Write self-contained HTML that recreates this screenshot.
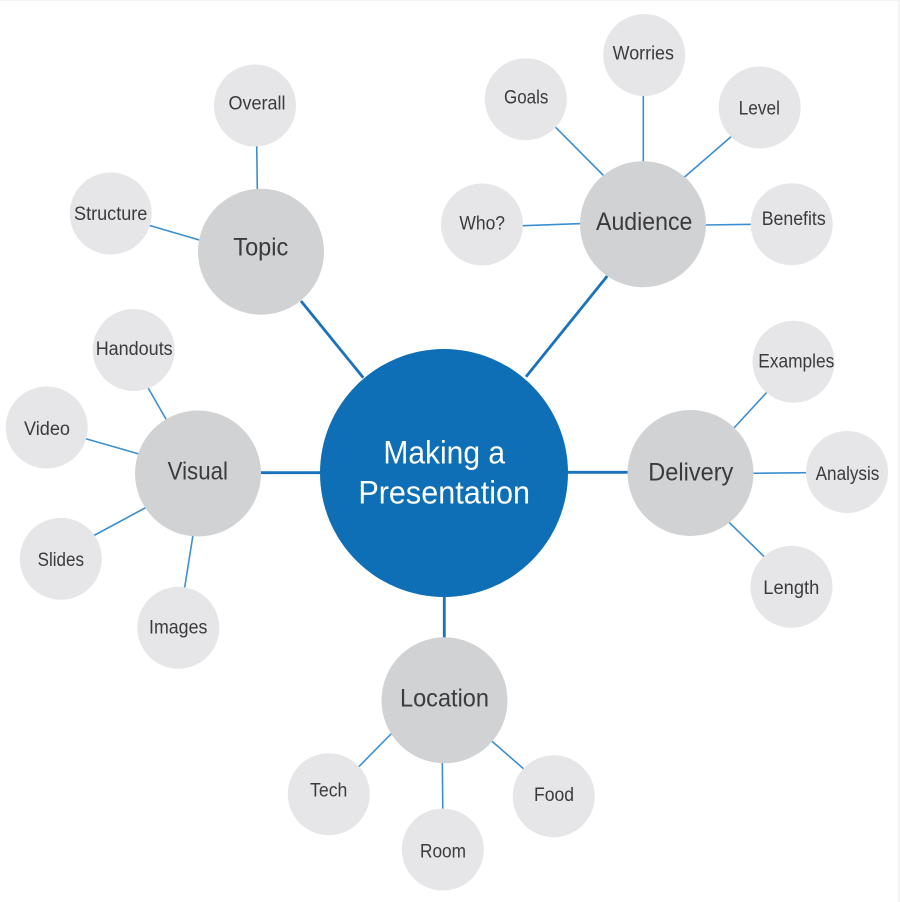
<!DOCTYPE html>
<html>
<head>
<meta charset="utf-8">
<style>
  html,body{margin:0;padding:0;background:#fff;}
  svg{display:block;}
  text{font-family:"Liberation Sans",Arial,sans-serif;fill:#3b3b3d;text-anchor:middle;}
  .s{font-size:19px;}
  .m{font-size:25px;}
  .c{font-size:32px;fill:#ffffff;}
  .ml{stroke:#1a72bd;stroke-width:2.8;}
  .tl{stroke:#3b8fd0;stroke-width:1.6;}
  .big{fill:#d1d2d4;}
  .sm{fill:#e6e6e8;}
</style>
</head>
<body>
<svg width="900" height="902" viewBox="0 0 900 902" xmlns="http://www.w3.org/2000/svg">
  <rect x="0" y="0" width="900" height="902" fill="#ffffff"/>
  <rect x="0" y="0" width="900" height="1" fill="#f2f2f2"/>
  <rect x="898" y="0" width="2" height="902" fill="#f3f3f3"/>

  <!-- main connectors -->
  <line class="ml" x1="301" y1="301" x2="363.3" y2="377.7"/>
  <line class="ml" x1="607.3" y1="276" x2="526" y2="376.7"/>
  <line class="ml" x1="258" y1="472.7" x2="322" y2="472.7"/>
  <line class="ml" x1="566" y1="472.3" x2="630" y2="472.3"/>
  <line class="ml" x1="444.3" y1="594" x2="444.3" y2="640"/>

  <!-- thin connectors -->
  <line class="tl" x1="256.7" y1="144" x2="257.3" y2="191"/>
  <line class="tl" x1="148" y1="225" x2="201" y2="240.5"/>
  <line class="tl" x1="147" y1="386" x2="166.5" y2="420"/>
  <line class="tl" x1="85" y1="438.5" x2="139" y2="454"/>
  <line class="tl" x1="93" y1="536" x2="146" y2="507.5"/>
  <line class="tl" x1="184.3" y1="590" x2="193" y2="535"/>
  <line class="tl" x1="554" y1="125.7" x2="604" y2="176"/>
  <line class="tl" x1="643.3" y1="94" x2="643.3" y2="163"/>
  <line class="tl" x1="733" y1="135" x2="684" y2="177.5"/>
  <line class="tl" x1="520" y1="225.8" x2="582" y2="223.6"/>
  <line class="tl" x1="704" y1="225" x2="753" y2="224.3"/>
  <line class="tl" x1="768" y1="391" x2="733.5" y2="428.5"/>
  <line class="tl" x1="751" y1="473.3" x2="808" y2="472.7"/>
  <line class="tl" x1="728.5" y1="521.8" x2="765" y2="557.5"/>
  <line class="tl" x1="358" y1="767.5" x2="392.5" y2="732.5"/>
  <line class="tl" x1="442.3" y1="761" x2="442.8" y2="811"/>
  <line class="tl" x1="490.5" y1="740" x2="525" y2="770"/>

  <!-- center -->
  <circle cx="444" cy="473" r="124" fill="#0e6fb7"/>

  <!-- main nodes -->
  <circle class="big" cx="261" cy="251.7" r="63"/>
  <circle class="big" cx="643" cy="224.2" r="63"/>
  <circle class="big" cx="198" cy="473.5" r="63"/>
  <circle class="big" cx="690.5" cy="473" r="63"/>
  <circle class="big" cx="444.5" cy="700.3" r="63"/>

  <!-- small nodes -->
  <circle class="sm" cx="255" cy="105.5" r="41"/>
  <circle class="sm" cx="110.7" cy="213.5" r="41"/>
  <circle class="sm" cx="133.7" cy="350" r="41"/>
  <circle class="sm" cx="46.7" cy="427.5" r="41"/>
  <circle class="sm" cx="60.8" cy="558.8" r="41"/>
  <circle class="sm" cx="178.3" cy="627.8" r="41"/>
  <circle class="sm" cx="525.8" cy="99.2" r="41"/>
  <circle class="sm" cx="644.2" cy="55" r="41"/>
  <circle class="sm" cx="759.7" cy="107.5" r="41"/>
  <circle class="sm" cx="482" cy="224.5" r="41"/>
  <circle class="sm" cx="791.7" cy="224.2" r="41"/>
  <circle class="sm" cx="793.5" cy="361.7" r="41"/>
  <circle class="sm" cx="847" cy="472" r="41"/>
  <circle class="sm" cx="791.5" cy="586.8" r="41"/>
  <circle class="sm" cx="328.8" cy="794.2" r="41"/>
  <circle class="sm" cx="442.8" cy="849.5" r="41"/>
  <circle class="sm" cx="553.7" cy="796.2" r="41"/>

  <!-- center text -->
  <text class="c" x="444.2" y="463.3" textLength="121.7" lengthAdjust="spacingAndGlyphs">Making a</text>
  <text class="c" x="444.2" y="503.3" textLength="171.7" lengthAdjust="spacingAndGlyphs">Presentation</text>

  <!-- main labels -->
  <text class="m" x="260.8" y="255.7" textLength="55" lengthAdjust="spacingAndGlyphs">Topic</text>
  <text class="m" x="644.2" y="230" textLength="96.3" lengthAdjust="spacingAndGlyphs">Audience</text>
  <text class="m" x="197.8" y="479.3" textLength="60.3" lengthAdjust="spacingAndGlyphs">Visual</text>
  <text class="m" x="690.8" y="480.7" textLength="85" lengthAdjust="spacingAndGlyphs">Delivery</text>
  <text class="m" x="444.5" y="706.7" textLength="89" lengthAdjust="spacingAndGlyphs">Location</text>

  <!-- small labels -->
  <text class="s" x="257" y="109.3" textLength="57" lengthAdjust="spacingAndGlyphs">Overall</text>
  <text class="s" x="110.7" y="220" textLength="73.3" lengthAdjust="spacingAndGlyphs">Structure</text>
  <text class="s" x="134.2" y="355" textLength="77" lengthAdjust="spacingAndGlyphs">Handouts</text>
  <text class="s" x="47" y="435" textLength="46" lengthAdjust="spacingAndGlyphs">Video</text>
  <text class="s" x="60.8" y="566" textLength="46.3" lengthAdjust="spacingAndGlyphs">Slides</text>
  <text class="s" x="178.2" y="633.3" textLength="58.3" lengthAdjust="spacingAndGlyphs">Images</text>
  <text class="s" x="526.2" y="103.7" textLength="44.3" lengthAdjust="spacingAndGlyphs">Goals</text>
  <text class="s" x="643.3" y="59.3" textLength="61.3" lengthAdjust="spacingAndGlyphs">Worries</text>
  <text class="s" x="759.3" y="114.3" textLength="41.3" lengthAdjust="spacingAndGlyphs">Level</text>
  <text class="s" x="482.2" y="229.3" textLength="45.7" lengthAdjust="spacingAndGlyphs">Who?</text>
  <text class="s" x="793.7" y="225" textLength="64" lengthAdjust="spacingAndGlyphs">Benefits</text>
  <text class="s" x="796.3" y="367.3" textLength="76" lengthAdjust="spacingAndGlyphs">Examples</text>
  <text class="s" x="847.5" y="480" textLength="63.7" lengthAdjust="spacingAndGlyphs">Analysis</text>
  <text class="s" x="791.3" y="594" textLength="56" lengthAdjust="spacingAndGlyphs">Length</text>
  <text class="s" x="328.7" y="796.7" textLength="37.3" lengthAdjust="spacingAndGlyphs">Tech</text>
  <text class="s" x="443" y="857.3" textLength="46" lengthAdjust="spacingAndGlyphs">Room</text>
  <text class="s" x="554" y="801" textLength="40" lengthAdjust="spacingAndGlyphs">Food</text>
</svg>
</body>
</html>
